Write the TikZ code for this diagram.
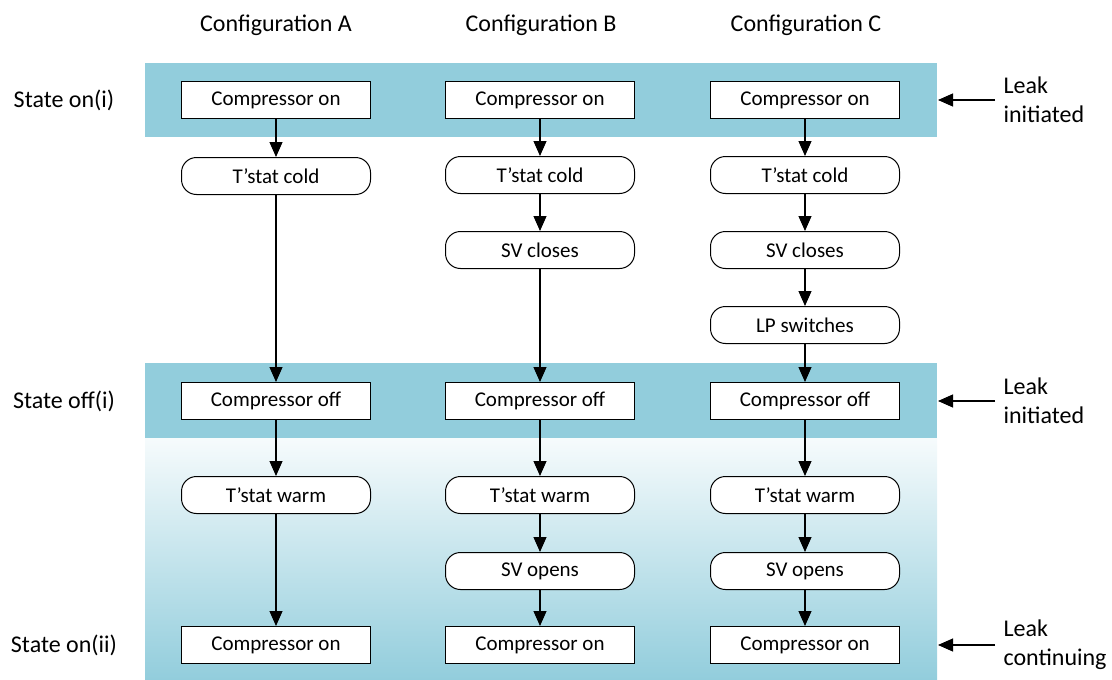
\documentclass[tikz,border=0pt]{standalone}
\usepackage{fontspec}
\setmainfont{Carlito}
\usetikzlibrary{arrows.meta}
\definecolor{band}{RGB}{146,205,220}

\begin{document}
\begin{tikzpicture}[x=1pt,y=-1pt,font=\fontsize{24}{29}\selectfont,
  box/.style={draw, line width=1pt, fill=white, minimum width=189pt, minimum height=37pt, inner sep=0pt,
    font=\fontsize{21}{25}\selectfont},
  rbox/.style={box, rounded corners=15pt},
  flow/.style={-{Triangle[length=15pt,width=13pt]}, line width=1.1pt}]
                        \useasboundingbox (0,0) rectangle (1112,680);
                        % Bands
                        \fill[band] (145,63) rectangle (937,137);
                        \fill[band] (145,363) rectangle (937,438);
                        \shade[top color=band!8, bottom color=band] (145,438) rectangle (937,680);

                        % Headings
                        \node (ha) at (276,25) {Configuration A};
                        \node (hb) at (541,25) {Configuration B};
                        \node (hc) at (806,25) {Configuration C};
                        \node (s1) at (64,100) {State on(i)};
                        \node (s2) at (64,401) {State off(i)};
                        \node (s3) at (64,645) {State on(ii)};

                        % Nodes
                        \node[box] (a1) at (276,100) {Compressor on};
                        \node[rbox] (a2) at (276,176) {T’stat cold};
                        \node[box] (a3) at (276,401) {Compressor off};
                        \node[rbox] (a4) at (276,495) {T’stat warm};
                        \node[box] (a5) at (276,645) {Compressor on};

                        \node[box] (b1) at (540,100) {Compressor on};
                        \node[rbox] (b2) at (540,175) {T’stat cold};
                        \node[rbox] (b3) at (540,250) {SV closes};
                        \node[box] (b4) at (540,401) {Compressor off};
                        \node[rbox] (b5) at (540,495) {T’stat warm};
                        \node[rbox] (b6) at (540,571) {SV opens};
                        \node[box] (b7) at (540,645) {Compressor on};

                        \node[box] (c1) at (805,100) {Compressor on};
                        \node[rbox] (c2) at (805,175) {T’stat cold};
                        \node[rbox] (c3) at (805,250) {SV closes};
                        \node[rbox] (c4) at (805,325) {LP switches};
                        \node[box] (c5) at (805,401) {Compressor off};
                        \node[rbox] (c6) at (805,495) {T’stat warm};
                        \node[rbox] (c7) at (805,571) {SV opens};
                        \node[box] (c8) at (805,645) {Compressor on};

                        % Leak notes
                        \node[align=left, anchor=west] (l1) at (1000,100) {Leak\\initiated};
                        \node[align=left, anchor=west] (l2) at (1000,401) {Leak\\initiated};
                        \node[align=left, anchor=west] (l3) at (1000,645) {Leak\\continuing};
                        \coordinate (e1) at (938,100);
                        \coordinate (e2) at (938,401);
                        \coordinate (e3) at (938,645);

                        % Edges
                        \draw[flow] (a1) -- (a2);
                        \draw[flow] (a2) -- (a3);
                        \draw[flow] (a3) -- (a4);
                        \draw[flow] (a4) -- (a5);

                        \draw[flow] (b1) -- (b2);
                        \draw[flow] (b2) -- (b3);
                        \draw[flow] (b3) -- (b4);
                        \draw[flow] (b4) -- (b5);
                        \draw[flow] (b5) -- (b6);
                        \draw[flow] (b6) -- (b7);

                        \draw[flow] (c1) -- (c2);
                        \draw[flow] (c2) -- (c3);
                        \draw[flow] (c3) -- (c4);
                        \draw[flow] (c4) -- (c5);
                        \draw[flow] (c5) -- (c6);
                        \draw[flow] (c6) -- (c7);
                        \draw[flow] (c7) -- (c8);

                        \draw[flow] (l1.west) ++(-5,0) -- (e1);
                        \draw[flow] (l2.west) ++(-5,0) -- (e2);
                        \draw[flow] (l3.west) ++(-5,0) -- (e3);
                    \end{tikzpicture}
\end{document}
